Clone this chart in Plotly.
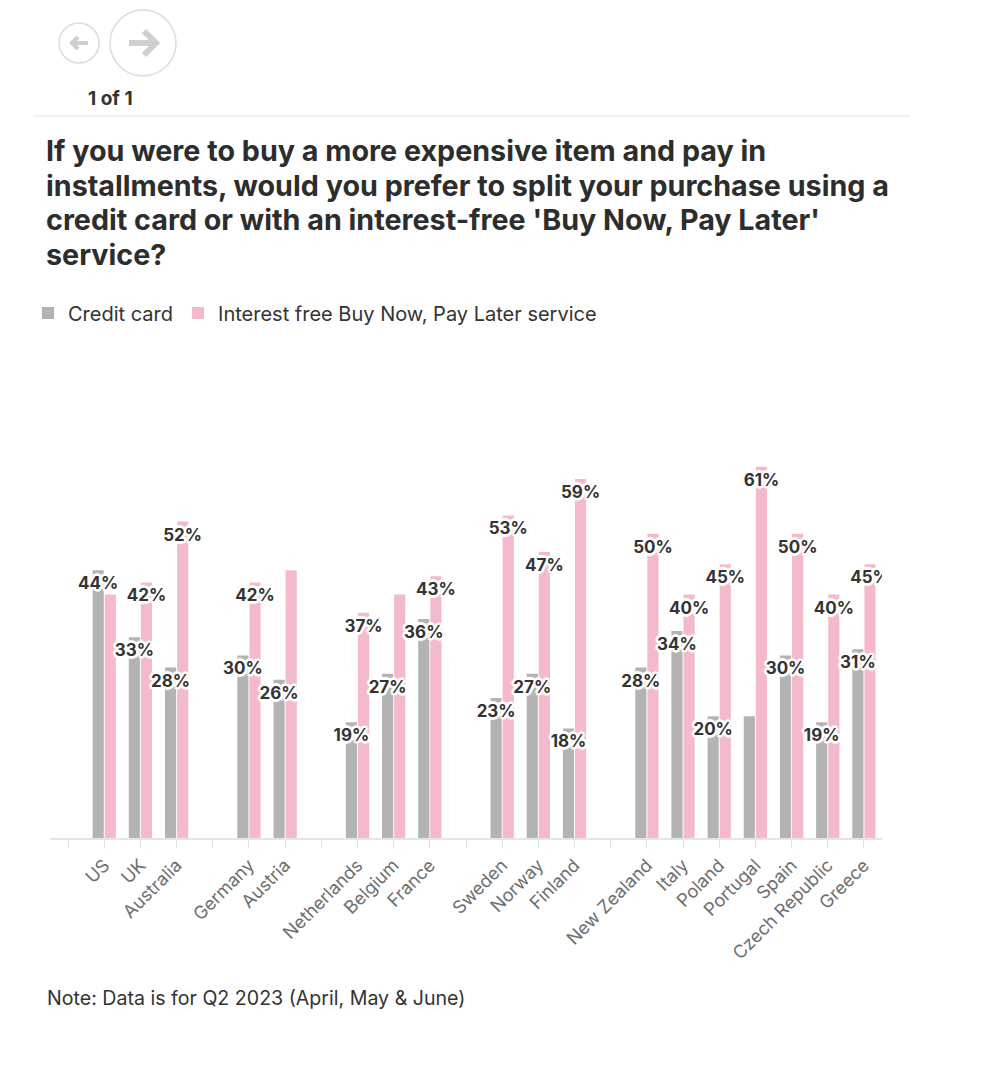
import plotly.graph_objects as go

# ---- data ----
tick_labels = ["", "US", "UK", "Australia", "", "Germany", "Austria", "",
               "Netherlands", "Belgium", "France", "", "Sweden", "Norway", "Finland", "",
               "New Zealand", "Italy", "Poland", "Portugal", "Spain", "Czech Republic", "Greece"]
credit_card = [None, 44, 33, 28, None, 30, 26, None,
               19, 27, 36, None, 23, 27, 18, None,
               28, 34, 20, 20, 30, 19, 31]
bnpl = [None, 40, 42, 52, None, 42, 44, None,
        37, 40, 43, None, 53, 47, 59, None,
        50, 40, 45, 61, 50, 40, 45]
# labels hidden in the original because they collide
credit_hidden = ["Portugal"]
bnpl_hidden = ["US", "Austria", "Belgium"]

series_names = ["Credit card", "Interest free Buy Now, Pay Later service"]
title_lines = ["If you were to buy a more expensive item and pay in",
               "installments, would you prefer to split your purchase using a",
               "credit card or with an interest-free 'Buy Now, Pay Later'",
               "service?"]
note_text = "Note: Data is for Q2 2023 (April, May & June)"

GREY = "#b3b3b3"
PINK = "#f4bacb"
DARK = "#333333"
FONT = "Inter"

W, Hfig = 1003, 1080
L, R, T, B = 50, 882, 412, 838


def px2x(p):
    return (p - L) / (R - L)


def py2y(p):
    return (B - p) / (B - T)


def labels(vals, hidden):
    out = []
    for lab, v in zip(tick_labels, vals):
        if v is None or lab in hidden:
            out.append("")
        else:
            out.append(f"{v}%")
    return out


xs = list(range(len(tick_labels)))
halo = ("2px 0 0 #fff, -2px 0 0 #fff, 0 2px 0 #fff, 0 -2px 0 #fff, "
        "2px 2px 0 #fff, -2px -2px 0 #fff, 2px -2px 0 #fff, -2px 2px 0 #fff, "
        "3px 0 1px #fff, -3px 0 1px #fff, 0 3px 1px #fff, 0 -3px 1px #fff")

fig = go.Figure()
series = [(series_names[0], credit_card, credit_hidden, GREY, "cc"),
          (series_names[1], bnpl, bnpl_hidden, PINK, "bnpl")]
# coloured bars
for name, vals, hidden, col, grp in series:
    fig.add_trace(go.Bar(
        x=xs, y=vals, name=name, offsetgroup=grp,
        marker=dict(color=col, line=dict(width=0)),
        hoverinfo="skip",
    ))
# value labels drawn on top of all bars (transparent twin bars)
for name, vals, hidden, col, grp in series:
    fig.add_trace(go.Bar(
        x=xs, y=vals, name=name, offsetgroup=grp, showlegend=False,
        marker=dict(color="rgba(0,0,0,0)", line=dict(width=0)),
        text=labels(vals, hidden), textposition="inside", insidetextanchor="end",
        textangle=0, constraintext="none",
        insidetextfont=dict(family=FONT, size=17, color=DARK, weight=700, shadow=halo),
        hoverinfo="skip",
    ))

shapes = []
# nav circles
for cx, cy, r in [(79, 43, 20), (143, 43, 33)]:
    shapes.append(dict(type="circle", xref="paper", yref="paper",
                       x0=px2x(cx - r), x1=px2x(cx + r), y0=py2y(cy + r), y1=py2y(cy - r),
                       line=dict(color="#dcdcdc", width=1.5)))
# small left arrow
shapes.append(dict(type="path", xref="paper", yref="paper",
                   path=f"M{px2x(88)},{py2y(43)} L{px2x(72)},{py2y(43)} "
                        f"M{px2x(78)},{py2y(37)} L{px2x(72)},{py2y(43)} L{px2x(78)},{py2y(49)}",
                   line=dict(color="#cfcfcf", width=4)))
# large right arrow
shapes.append(dict(type="path", xref="paper", yref="paper",
                   path=f"M{px2x(129)},{py2y(43)} L{px2x(156)},{py2y(43)} "
                        f"M{px2x(144)},{py2y(31)} L{px2x(156)},{py2y(43)} L{px2x(144)},{py2y(55)}",
                   line=dict(color="#cfcfcf", width=6)))
# separator
shapes.append(dict(type="line", xref="paper", yref="paper",
                   x0=px2x(33), x1=px2x(910), y0=py2y(116), y1=py2y(116),
                   line=dict(color="#ececec", width=1.5)))

annotations = [
    dict(text="<b>1 of 1</b>", x=px2x(110), y=py2y(98), xref="paper", yref="paper",
         showarrow=False, xanchor="center", yanchor="middle",
         font=dict(family=FONT, size=19, color=DARK)),
    dict(text=note_text, x=px2x(45), y=py2y(998), xref="paper", yref="paper",
         showarrow=False, xanchor="left", yanchor="middle", align="left",
         font=dict(family=FONT, size=19.6, color=DARK)),
]
for i, line in enumerate(title_lines):
    annotations.append(dict(
        text=line, x=px2x(44), y=py2y(151 + 34.4 * i), xref="paper", yref="paper",
        showarrow=False, xanchor="left", yanchor="middle", align="left",
        font=dict(family=FONT, size=28.7, color="#2d2d2d", weight=700)))

fig.update_layout(
    width=W, height=Hfig,
    margin=dict(l=L, r=W - R, t=T, b=Hfig - B, pad=0),
    paper_bgcolor="white", plot_bgcolor="white",
    barmode="group", bargap=0.33, bargroupgap=0.08,
    font=dict(family=FONT, color=DARK),
    showlegend=True,
    legend=dict(orientation="h", x=px2x(28), xanchor="left", y=py2y(313), yanchor="middle",
                font=dict(family=FONT, size=20, color=DARK), itemclick=False,
                bgcolor="rgba(0,0,0,0)"),
    xaxis=dict(range=[-0.5, len(tick_labels) - 0.5], tickmode="array", tickvals=xs,
               ticktext=tick_labels, tickangle=-45, ticks="outside", ticklen=8,
               tickcolor="#e0e0e0", showline=True, linecolor="#e5e5e5", linewidth=1.5,
               showgrid=False, zeroline=False, fixedrange=True,
               tickfont=dict(family=FONT, size=18, color="#6e6e6e")),
    yaxis=dict(range=[0, 70], visible=False, showgrid=False, zeroline=False, fixedrange=True),
    shapes=shapes, annotations=annotations,
)

fig.write_html("out.html", config={"displayModeBar": False})
